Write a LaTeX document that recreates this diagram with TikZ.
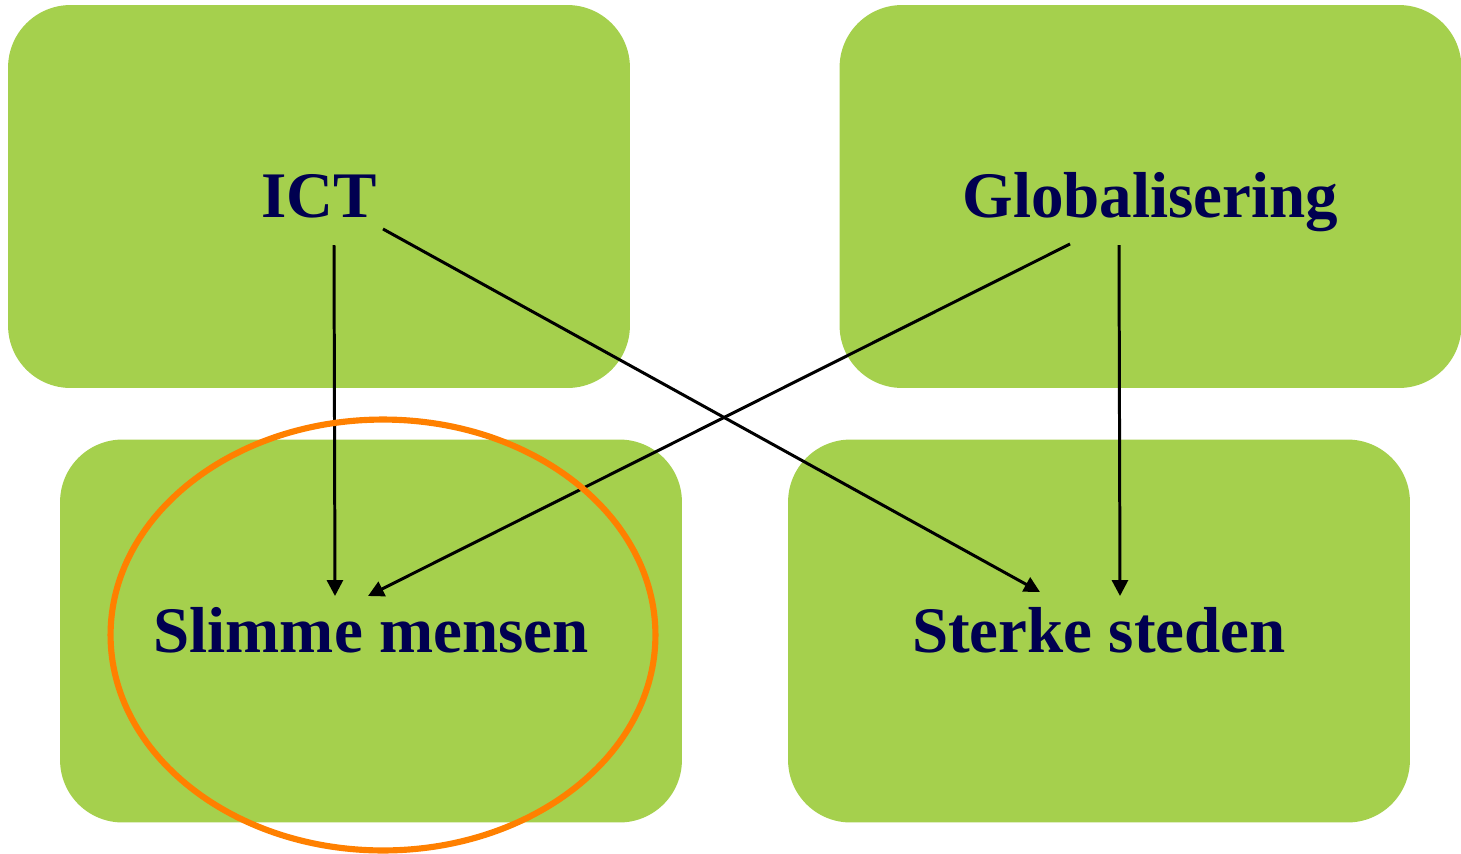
\documentclass[tikz,border=0pt]{standalone}
\usepackage{fontspec}
\setmainfont{Liberation Serif}
\usetikzlibrary{arrows.meta,shapes.geometric}
\definecolor{boxgreen}{HTML}{A5D04D}
\definecolor{navy}{HTML}{000050}
\definecolor{ringorange}{HTML}{FF8000}
\begin{document}
\begin{tikzpicture}[x=0.02cm,y=-0.02cm,
  greenbox/.style={fill=boxgreen, draw=none, rounded corners=1.25cm,
    minimum width=12.44cm, minimum height=7.66cm, inner sep=0pt,
    text height=1.0cm, text depth=0.16cm,
    text=navy, font=\fontsize{37}{40}\selectfont\bfseries},
  link/.style={draw=black, line width=1.7pt, -{Triangle[length=9pt,width=9pt]}}]
\useasboundingbox (0,0) rectangle (1461,853);
\node[greenbox] (ict) at (319,196.5) {ICT};
\node[greenbox] (glob) at (1150.5,196.5) {Globalisering};
\node[greenbox] (slim) at (371,631) {Slimme mensen};
\node[greenbox] (sterk) at (1099,631) {Sterke steden};
\coordinate (ictA) at (334,245);
\coordinate (ictB) at (383,229);
\coordinate (globA) at (1070,244);
\coordinate (globB) at (1119,245);
\coordinate (slimA) at (335,596);
\coordinate (slimB) at (368,596);
\coordinate (sterkA) at (1040,592);
\coordinate (sterkB) at (1120,596);
\draw[link] (ictA) -- (slimA);
\draw[link] (ictB) -- (sterkA);
\draw[link] (globA) -- (slimB);
\draw[link] (globB) -- (sterkB);
\node[draw=ringorange, line width=3.5pt, ellipse, minimum width=10.9cm, minimum height=8.62cm, inner sep=0pt] (ring) at (383,635) {};
\end{tikzpicture}
\end{document}
